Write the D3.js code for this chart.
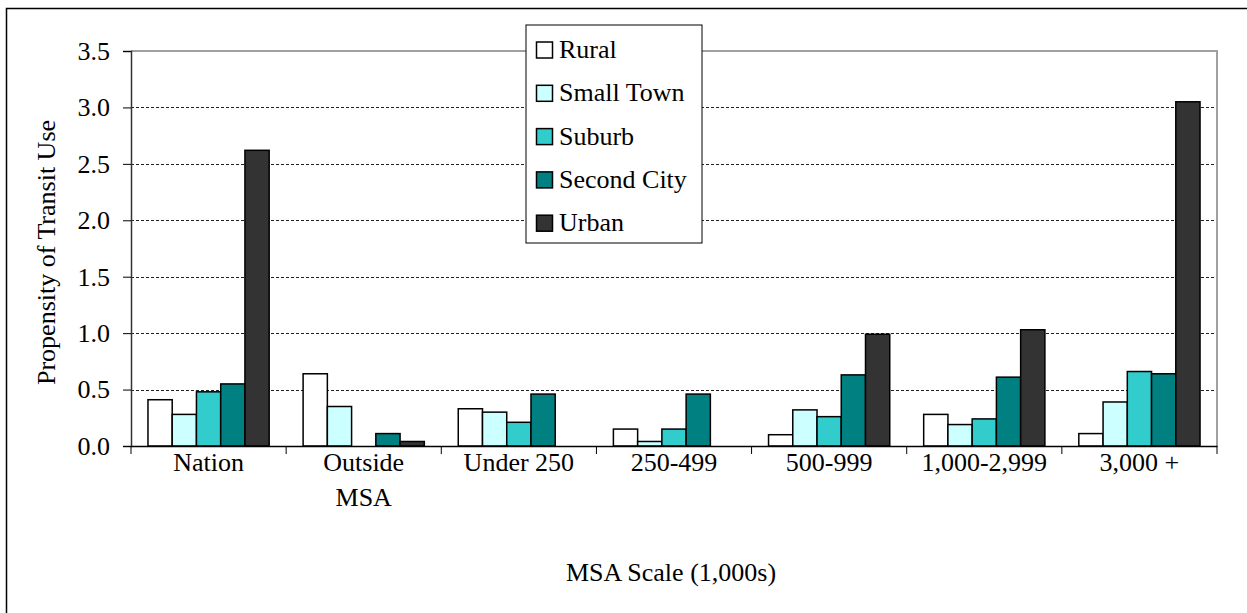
<!DOCTYPE html>
<html>
<head>
<meta charset="utf-8">
<script src="https://cdn.jsdelivr.net/npm/d3@7"></script>
<style>
  html, body { margin: 0; padding: 0; background: #fff; }
  svg { display: block; }
  svg text { font-family: "Liberation Serif", "Times New Roman", serif !important; fill: #000; }
</style>
</head>
<body>
<svg id="chart" width="1247" height="613" font-family="Liberation Serif"></svg>
<script>
const categories = ["Nation", "Outside MSA", "Under 250", "250-499", "500-999", "1,000-2,999", "3,000 +"];
const seriesNames = ["Rural", "Small Town", "Suburb", "Second City", "Urban"];
const rural      = [0.41, 0.64, 0.33, 0.15, 0.10, 0.28, 0.11];
const smallTown  = [0.28, 0.35, 0.30, 0.04, 0.32, 0.19, 0.39];
const suburb     = [0.48, 0.00, 0.21, 0.15, 0.26, 0.24, 0.66];
const secondCity = [0.55, 0.11, 0.46, 0.46, 0.63, 0.61, 0.64];
const urban      = [2.62, 0.04, 0.00, 0.00, 0.99, 1.03, 3.05];
const yTicks = [0, 0.5, 1.0, 1.5, 2.0, 2.5, 3.0, 3.5];
const colors = ["#FFFFFF", "#CCFFFF", "#33CCCC", "#008080", "#333333"];

const seriesValues = [rural, smallTown, suburb, secondCity, urban];
const data = categories.map((c, i) => ({
  cat: c,
  values: seriesNames.map((s, j) => ({ series: s, value: seriesValues[j][i] }))
}));

const FONT = "Liberation Serif, Times New Roman, serif";
const FS = "26px";
const svg = d3.select("#chart");
const plot = { left: 131, right: 1217, top: 51, bottom: 446 };

// outer frame
svg.append("rect").attr("x", 6.5).attr("y", 8.5).attr("width", 1300).attr("height", 700)
  .attr("fill", "none").attr("stroke", "#000").attr("stroke-width", 1.5);

const x0 = d3.scaleBand().domain(categories).range([plot.left, plot.right]).padding(0);
const x1 = d3.scaleBand().domain(seriesNames).range([0, x0.bandwidth()]).paddingInner(0).paddingOuter(0.7);
const y = d3.scaleLinear().domain([0, 3.5]).range([plot.bottom, plot.top]);
const color = d3.scaleOrdinal().domain(seriesNames).range(colors);

// gridlines
svg.append("g").selectAll("line").data(yTicks.filter(t => t > 0 && t < 3.5)).join("line")
  .attr("x1", plot.left).attr("x2", plot.right)
  .attr("y1", d => Math.round(y(d)) + 0.5).attr("y2", d => Math.round(y(d)) + 0.5)
  .attr("stroke", "#222").attr("stroke-width", 1).attr("stroke-dasharray", "3,2");

// plot border top & right (gray)
svg.append("path")
  .attr("d", `M${plot.left},${plot.top} H${plot.right} V${plot.bottom}`)
  .attr("fill", "none").attr("stroke", "#a0a0a0").attr("stroke-width", 2);

// bars
const groups = svg.append("g").selectAll("g").data(data).join("g")
  .attr("transform", d => `translate(${x0(d.cat)},0)`);
groups.selectAll("rect").data(d => d.values.filter(v => v.value > 0)).join("rect")
  .attr("x", d => x1(d.series))
  .attr("y", d => y(d.value))
  .attr("width", x1.bandwidth())
  .attr("height", d => y(0) - y(d.value))
  .attr("fill", d => color(d.series))
  .attr("stroke", "#000").attr("stroke-width", 1.5);

// y axis
const yAxis = d3.axisLeft(y).tickValues(yTicks).tickFormat(d3.format(".1f")).tickSize(8).tickPadding(13);
const gy = svg.append("g").attr("transform", `translate(${plot.left},0)`).call(yAxis)
  .attr("font-family", FONT).attr("font-size", FS);
gy.select(".domain").attr("stroke", "#333").attr("stroke-width", 1.5);
gy.selectAll(".tick line").attr("stroke", "#000");
gy.selectAll(".tick text").attr("font-size", FS).attr("font-family", FONT).attr("fill", "#000");

// x axis baseline and ticks
const xAxis = d3.axisBottom(x0).tickSize(0).tickFormat("");
const gx = svg.append("g").attr("transform", `translate(0,${plot.bottom})`).call(xAxis);
gx.select(".domain").attr("stroke", "#000").attr("stroke-width", 1.5);
const boundaries = categories.map(c => x0(c)).concat([plot.right]);
gx.selectAll(".sep").data(boundaries).join("line").attr("class", "sep")
  .attr("x1", d => d).attr("x2", d => d).attr("y1", 0).attr("y2", 8)
  .attr("stroke", "#000").attr("stroke-width", 1);

// category labels
const labelLines = { "Outside MSA": ["Outside", "MSA"] };
categories.forEach(c => {
  const lines = labelLines[c] || [c];
  const t = svg.append("text").attr("text-anchor", "middle").attr("font-size", FS).attr("font-family", FONT)
    .attr("x", x0(c) + x0.bandwidth() / 2).attr("y", 471);
  lines.forEach((l, i) => t.append("tspan").attr("x", x0(c) + x0.bandwidth() / 2).attr("dy", i === 0 ? 0 : 35).text(l));
});

// axis titles
svg.append("text").attr("text-anchor", "middle").attr("font-size", FS).attr("font-family", FONT)
  .attr("x", (plot.left + plot.right) / 2 - 3).attr("y", 581).text("MSA Scale (1,000s)");
svg.append("text").attr("text-anchor", "middle").attr("font-size", FS).attr("font-family", FONT)
  .attr("transform", `translate(55,${(plot.top + plot.bottom) / 2 + 4}) rotate(-90)`).text("Propensity of Transit Use");

// legend
const lg = svg.append("g");
lg.append("rect").attr("x", 526).attr("y", 25).attr("width", 176).attr("height", 218)
  .attr("fill", "#fff").attr("stroke", "#000").attr("stroke-width", 1);
seriesNames.forEach((s, i) => {
  const cy = 50 + i * 43.3;
  lg.append("rect").attr("x", 536.5).attr("y", cy - 8).attr("width", 16).attr("height", 16)
    .attr("fill", color(s)).attr("stroke", "#000").attr("stroke-width", 1.5);
  lg.append("text").attr("x", 559).attr("y", cy + 8).attr("font-size", FS).attr("font-family", FONT).text(s);
});
</script>
</body>
</html>
